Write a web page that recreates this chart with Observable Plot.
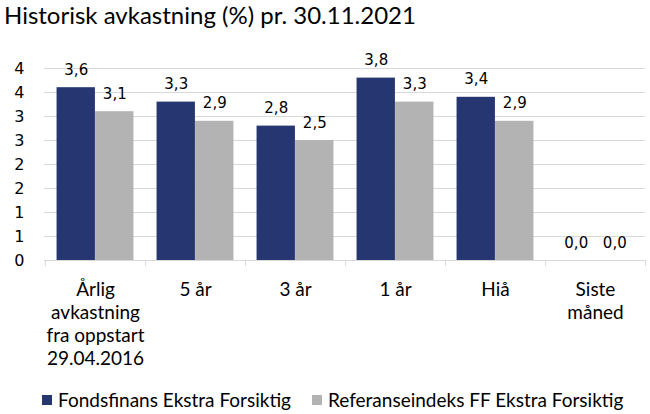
<!DOCTYPE html>
<html><head><meta charset="utf-8">
<script src="https://cdn.jsdelivr.net/npm/d3@7"></script>
<script src="https://cdn.jsdelivr.net/npm/@observablehq/plot@0.6"></script>
<style>
body{margin:0;background:#fff;}
#wrap{position:relative;width:650px;height:414px;overflow:hidden;background:#fff;}
#title{position:absolute;left:4px;top:0px;font-family:Lato;font-size:24px;color:#000;white-space:nowrap;}
#chart{position:absolute;left:0;top:0;}
#legend{position:absolute;left:42px;top:388px;display:flex;align-items:center;gap:21px;font-family:Lato;font-size:19px;color:#000;}
#legend .item{display:flex;align-items:center;gap:6px;white-space:nowrap;}
#legend .sw{width:10px;height:10px;display:inline-block;}
</style></head>
<body><div id="wrap"><div id="chart"></div><div id="title">Historisk avkastning (%) pr. 30.11.2021</div><div id="legend"></div></div>
<script>
const categories = ["Årlig\navkastning\nfra oppstart\n29.04.2016", "5 år", "3 år", "1 år", "Hiå", "Siste\nmåned"];
const seriesNames = ["Fondsfinans Ekstra Forsiktig", "Referanseindeks FF Ekstra Forsiktig"];
const fondValues = [3.6, 3.3, 2.8, 3.8, 3.4, 0.0];
const refValues = [3.1, 2.9, 2.5, 3.3, 2.9, 0.0];
const yTicks = [0, 0.5, 1, 1.5, 2, 2.5, 3, 3.5, 4];
const colors = ["#253670", "#b3b3b3"];

const W = 650, H = 414, mL = 44, mR = 5, mT = 68, mB = 154;
const bw = (W - mL - mR) / categories.length;
const barW = bw / 1.3 / 2;
const gap = bw / 2 - barW;

const fond = categories.map((c, i) => ({cat: c, value: fondValues[i], series: seriesNames[0]}));
const ref = categories.map((c, i) => ({cat: c, value: refValues[i], series: seriesNames[1]}));
const fmt = v => d3.format(".1f")(v).replace(".", ",");

const chart = Plot.plot({
  width: W, height: H,
  marginLeft: mL, marginRight: mR, marginTop: mT, marginBottom: mB,
  style: {background: "transparent", fontFamily: "DejaVu Sans", color: "#000"},
  x: {type: "band", domain: categories, padding: 0, axis: null},
  y: {domain: [0, 4], axis: null},
  marks: [
    Plot.ruleY(yTicks, {stroke: "#d9d9d9", strokeWidth: 1}),
    Plot.barY(fond, {x: "cat", y: "value", fill: colors[0], insetLeft: gap, insetRight: bw / 2}),
    Plot.barY(ref, {x: "cat", y: "value", fill: colors[1], insetLeft: bw / 2, insetRight: gap}),
    Plot.ruleX(categories, {x: d => d, y1: () => 0, y2: () => 0, insetBottom: -6, dx: bw / 2, stroke: "#d9d9d9"}),
    Plot.ruleX(categories.slice(0, 1), {x: d => d, y1: () => 0, y2: () => 0, insetBottom: -6, dx: -bw / 2, stroke: "#d9d9d9"}),
    Plot.text(fond, {x: "cat", y: "value", text: d => fmt(d.value), dx: -barW / 2, dy: -13, lineAnchor: "bottom", fontSize: 15, fontFamily: "DejaVu Sans", fill: "#000"}),
    Plot.text(ref, {x: "cat", y: "value", text: d => fmt(d.value), dx: barW / 2, dy: -13, lineAnchor: "bottom", fontSize: 15, fontFamily: "DejaVu Sans", fill: "#000"}),
    Plot.axisY(yTicks, {tickSize: 0, tickPadding: 20, tickFormat: d => String(Math.round(d)), fontSize: 16, fontFamily: "DejaVu Sans", fill: "#000", label: null}),
    Plot.text(categories, {x: d => d, y: () => 0, text: d => d, lineAnchor: "top", dy: 19, lineHeight: 23 / 19, fontSize: 19, fontFamily: "Lato", fill: "#000"})
  ]
});
document.getElementById("chart").appendChild(chart);

const legend = document.getElementById("legend");
seriesNames.forEach((name, i) => {
  const item = document.createElement("div");
  item.className = "item";
  const sw = document.createElement("span");
  sw.className = "sw";
  sw.style.background = colors[i];
  const t = document.createElement("span");
  t.textContent = name;
  item.appendChild(sw);
  item.appendChild(t);
  legend.appendChild(item);
});
</script>
</body></html>
